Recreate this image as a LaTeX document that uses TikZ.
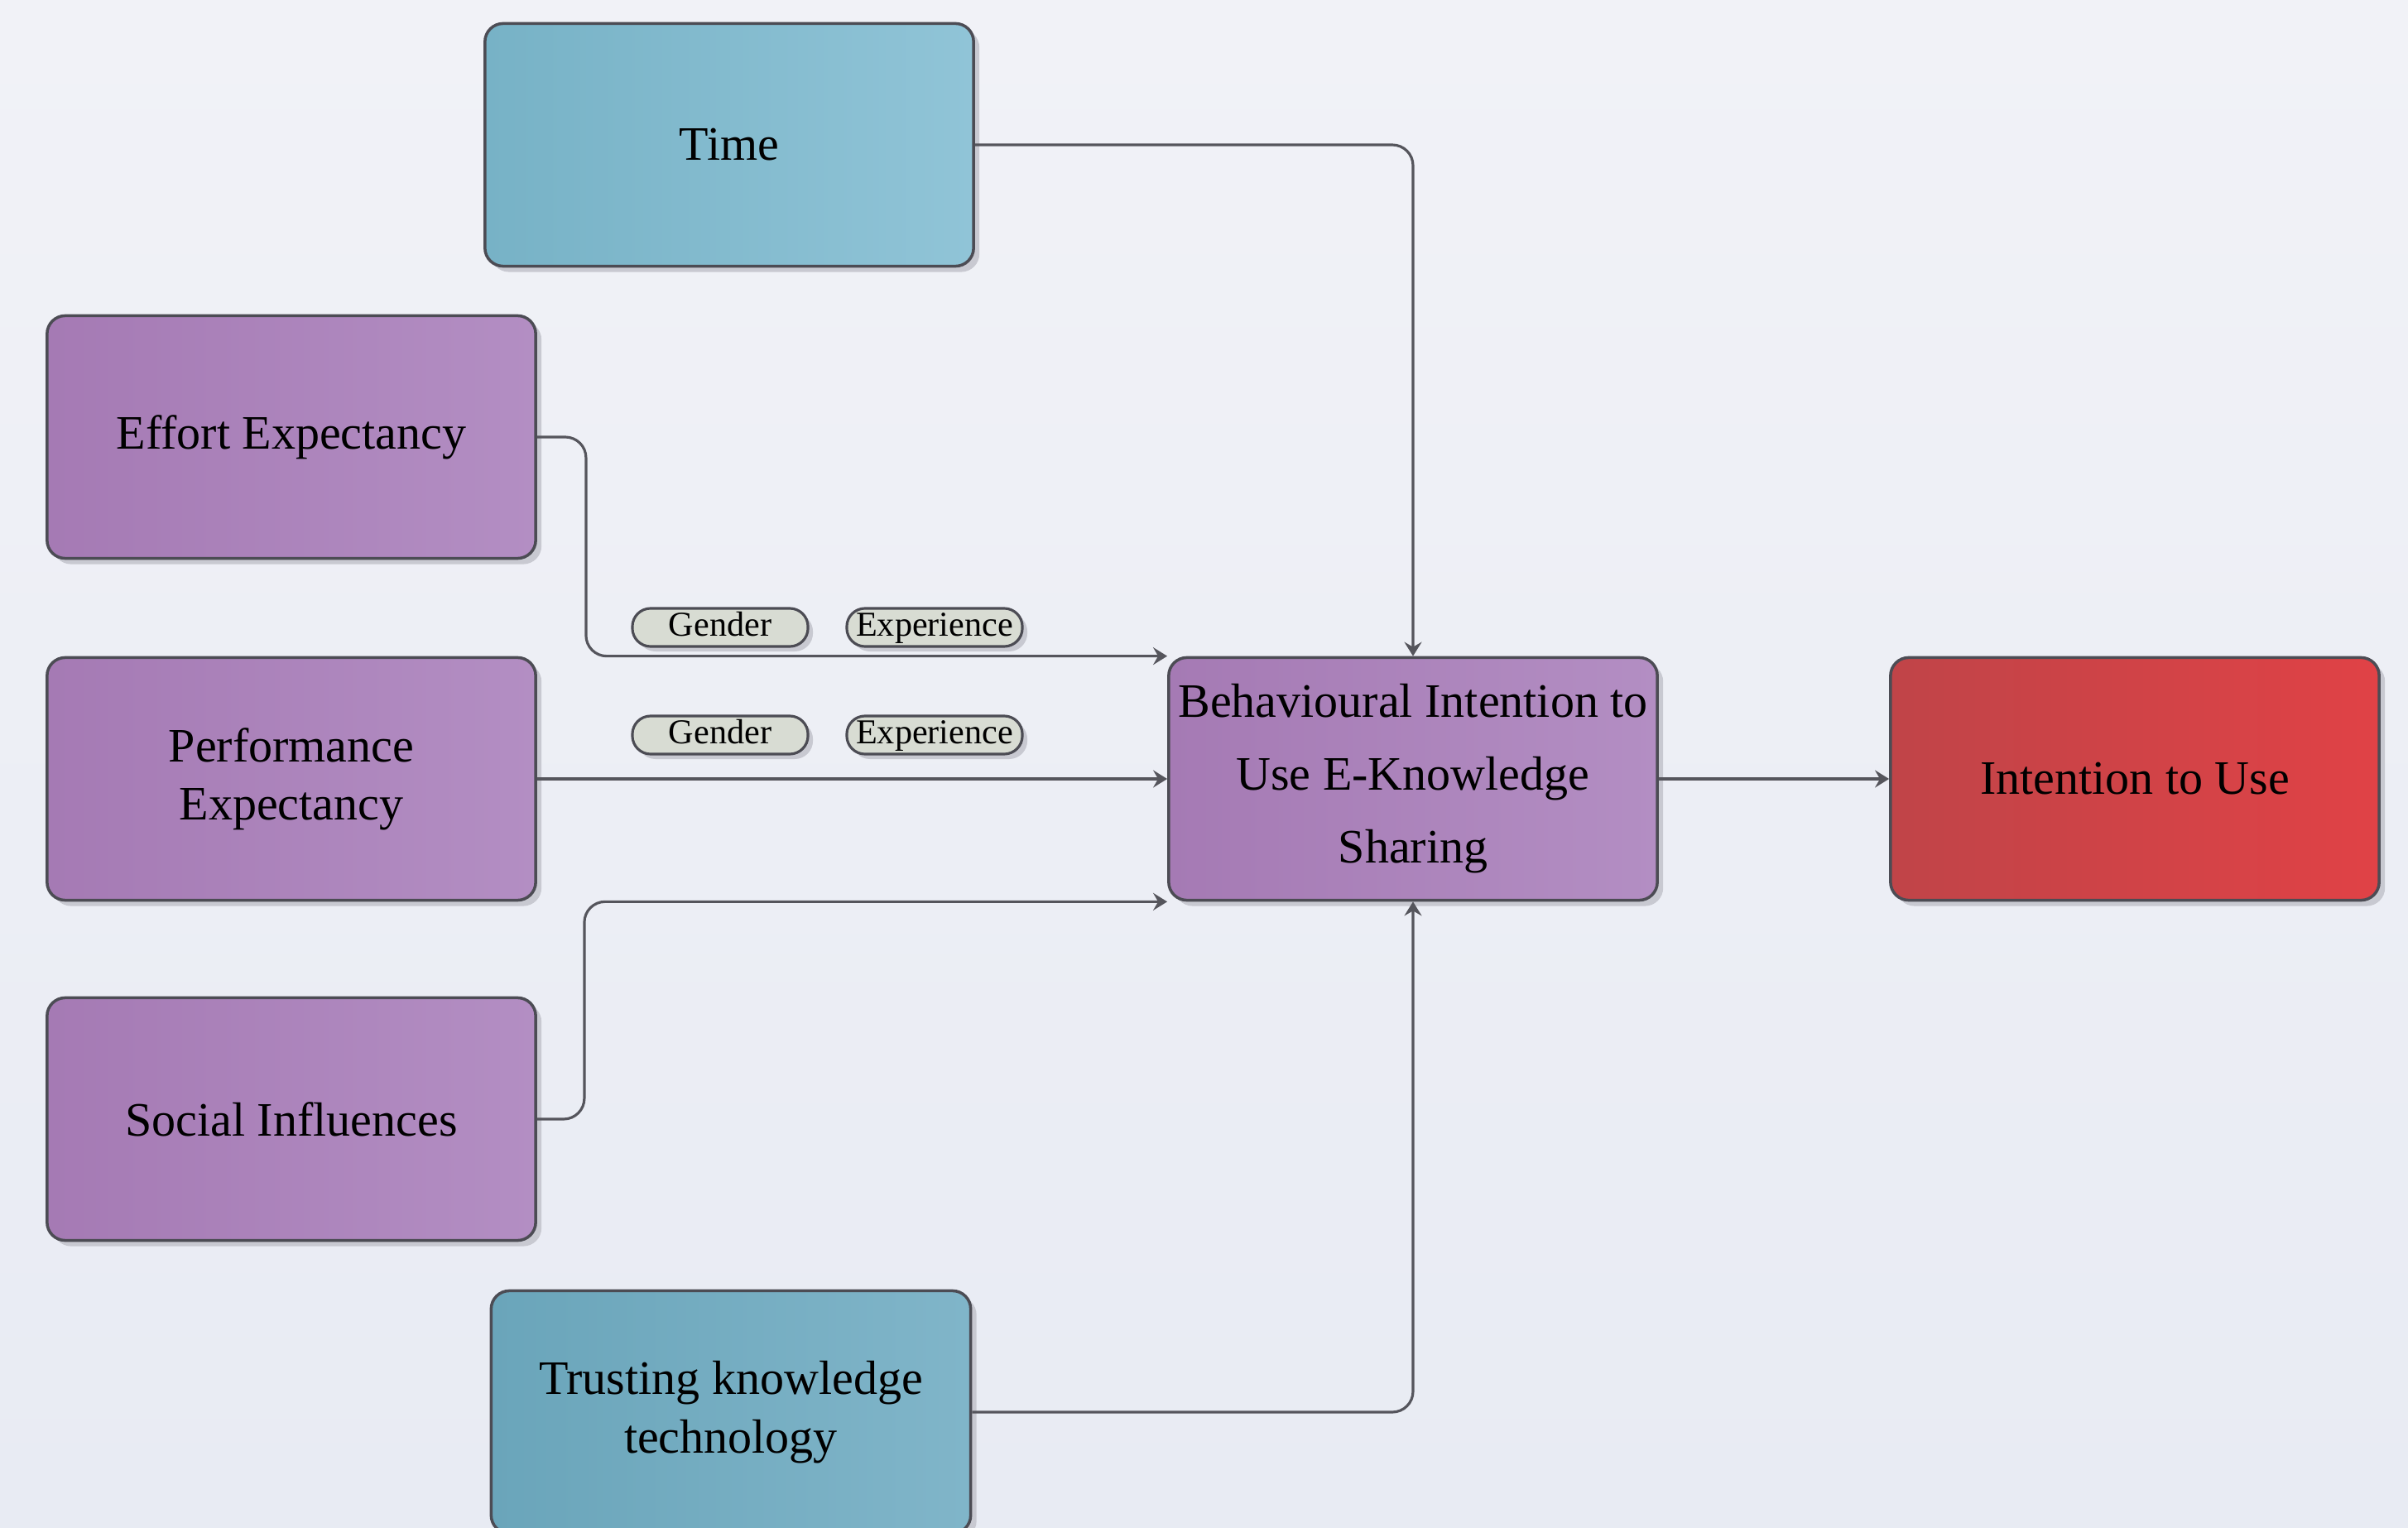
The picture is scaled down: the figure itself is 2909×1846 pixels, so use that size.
\documentclass[tikz,border=0pt]{standalone}
\usepackage{fontspec}
\setmainfont{Liberation Serif}
\usetikzlibrary{shadows,arrows.meta}
\definecolor{bgtop}{HTML}{F1F2F7}
\definecolor{bgbot}{HTML}{E8EBF3}
\definecolor{edge}{HTML}{4C4C54}
\definecolor{linec}{HTML}{55555C}
\definecolor{shadowc}{HTML}{C8C9D1}
\definecolor{purA}{HTML}{A57AB4}
\definecolor{purB}{HTML}{B38EC3}
\definecolor{bluA}{HTML}{77B2C6}
\definecolor{bluB}{HTML}{90C4D7}
\definecolor{tblA}{HTML}{6AA5BA}
\definecolor{tblB}{HTML}{80B5C9}
\definecolor{redA}{HTML}{C04448}
\definecolor{redB}{HTML}{E04246}
\definecolor{pillc}{HTML}{D8DCD3}
\begin{document}
\begin{tikzpicture}[x=0.01cm,y=-0.01cm,
  box/.style={draw=edge, line width=1pt, rounded corners=0.22cm,
    minimum width=5.9cm, minimum height=2.93cm, align=center, inner sep=0pt,
    font=\fontsize{16.5}{20}\selectfont,
    drop shadow={shadow xshift=0.07cm, shadow yshift=-0.07cm, fill=shadowc, opacity=1}},
  purple box/.style={box, left color=purA, right color=purB},
  blue box/.style={box, left color=bluA, right color=bluB},
  tblue box/.style={box, left color=tblA, right color=tblB},
  red box/.style={box, left color=redA, right color=redB},
  pill/.style={draw=edge, line width=0.9pt, rounded corners=0.22cm, fill=pillc,
    minimum width=2.12cm, minimum height=0.46cm, inner sep=0pt,
    text height=0.29cm, text depth=0.08cm,
    font=\fontsize{12}{14}\selectfont,
    drop shadow={shadow xshift=0.06cm, shadow yshift=-0.06cm, fill=shadowc, opacity=1}},
  conn/.style={draw=linec, line width=0.9pt, rounded corners=0.25cm,
    -{Stealth[length=0.17cm, width=0.21cm, inset=0.06cm]}}
]
\useasboundingbox (0,0) rectangle (2909,1846);
\shade[top color=bgtop, bottom color=bgbot] (0,0) rectangle (2909,1846);

\node[blue box] (time) at (881,175) {Time};
\node[purple box] (eff) at (352,528) {Effort Expectancy};
\node[purple box] (perf) at (352,941) {Performance\\Expectancy};
\node[purple box] (soc) at (352,1352) {Social Influences};
\node[tblue box, minimum width=5.79cm] (trust) at (883,1706) {Trusting knowledge\\technology};
\node[purple box, font=\fontsize{16.5}{25}\selectfont] (bi) at (1707,941)
  {Behavioural Intention to\\Use E-Knowledge\\Sharing};
\node[red box] (itu) at (2579,941) {Intention to Use};

\node[pill] (g1) at (870,758) {Gender};
\node[pill] (e1) at (1129,758) {Experience};
\node[pill] (g2) at (870,888) {Gender};
\node[pill] (e2) at (1129,888) {Experience};

\draw[conn] (time.east) -| (bi.north);
\draw[conn] (eff.east) -- ++(59,0) |- (bi.north west);
\draw[conn] (perf.east) -- (bi.west);
\draw[conn] (soc.east) -- ++(57,0) |- (bi.south west);
\draw[conn] (trust.east) -| (bi.south);
\draw[conn] (bi.east) -- (itu.west);
\end{tikzpicture}
\end{document}
